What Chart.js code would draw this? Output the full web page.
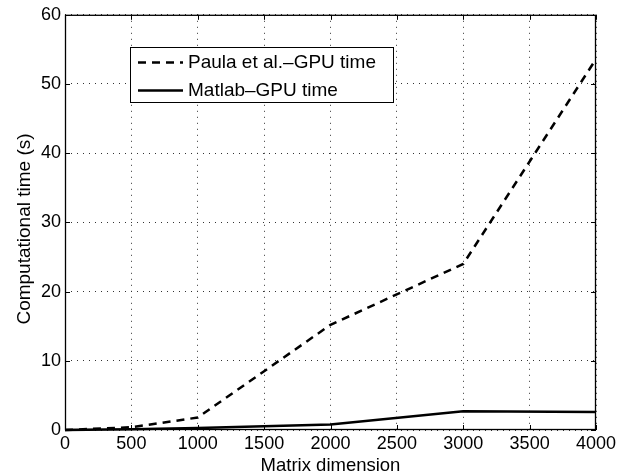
<!DOCTYPE html>
<html><head><meta charset="utf-8">
<script src="https://cdn.jsdelivr.net/npm/chart.js@4"></script>
<style>html,body{margin:0;padding:0;background:#fff}#wrap{width:631px;height:476px}</style>
</head><body><div id="wrap"><canvas id="c" width="631" height="476"></canvas></div>
<script>
const matrixDims = [0, 500, 1000, 2000, 3000, 4000];
const paulaGpuTime = [0, 0.4, 1.8, 15.2, 24.0, 53.6];
const matlabGpuTime = [0, 0.1, 0.3, 0.8, 2.7, 2.6];
const xTickValues = [0, 500, 1000, 1500, 2000, 2500, 3000, 3500, 4000];
const yTickValues = [0, 10, 20, 30, 40, 50, 60];
const seriesLabels = ['Paula et al.\u2013GPU time', 'Matlab\u2013GPU time'];
const xTitle = 'Matrix dimension';
const yTitle = 'Computational time (s)';

const FONT = '"Liberation Sans", Arial, Helvetica, sans-serif';
const toPts = (xs, ys) => xs.map((x, i) => ({x: x, y: ys[i]}));

const framePlugin = {
  id: 'frame',
  afterDatasetsDraw(chart) {
    const {ctx, chartArea: a, scales} = chart;
    ctx.save();
    ctx.strokeStyle = '#000';
    ctx.lineWidth = 1.3;
    ctx.setLineDash([]);
    ctx.strokeRect(a.left + 0.5, a.top + 0.5, a.right - a.left - 1, a.bottom - a.top - 1);
    const tl = 5;
    ctx.lineWidth = 1;
    ctx.beginPath();
    xTickValues.forEach(v => {
      const px = Math.round(scales.x.getPixelForValue(v)) + 0.5;
      ctx.moveTo(px, a.bottom); ctx.lineTo(px, a.bottom - tl);
      ctx.moveTo(px, a.top); ctx.lineTo(px, a.top + tl);
    });
    yTickValues.forEach(v => {
      const py = Math.round(scales.y.getPixelForValue(v)) + 0.5;
      ctx.moveTo(a.left, py); ctx.lineTo(a.left + tl, py);
      ctx.moveTo(a.right, py); ctx.lineTo(a.right - tl, py);
    });
    ctx.stroke();
    ctx.restore();
  },
  afterDraw(chart) {
    const {ctx} = chart;
    // y axis title
    ctx.save();
    ctx.fillStyle = '#000';
    ctx.font = '19px ' + FONT;
    ctx.textAlign = 'center';
    ctx.textBaseline = 'middle';
    ctx.translate(25, 229);
    ctx.rotate(-Math.PI / 2);
    ctx.fillText(yTitle, 0, 0);
    ctx.restore();
    // legend box
    ctx.save();
    const bx = 130, by = 47, bw = 263, bh = 55;
    ctx.fillStyle = '#fff';
    ctx.fillRect(bx, by, bw, bh);
    ctx.strokeStyle = '#000';
    ctx.lineWidth = 1;
    ctx.strokeRect(bx + 0.5, by + 0.5, bw, bh);
    const rows = [62.5, 90.5];
    chart.data.datasets.forEach((ds, i) => {
      ctx.save();
      ctx.strokeStyle = ds.borderColor;
      ctx.lineWidth = ds.borderWidth;
      ctx.setLineDash(ds.borderDash || []);
      ctx.beginPath();
      ctx.moveTo(138, rows[i]);
      ctx.lineTo(183, rows[i]);
      ctx.stroke();
      ctx.restore();
      ctx.fillStyle = '#000';
      ctx.font = '19px ' + FONT;
      ctx.textAlign = 'left';
      ctx.textBaseline = 'middle';
      ctx.fillText(ds.label, 188, rows[i]);
    });
    ctx.restore();
  }
};

new Chart(document.getElementById('c'), {
  type: 'line',
  data: {
    datasets: [
      {label: seriesLabels[0], data: toPts(matrixDims, paulaGpuTime), borderColor: '#000', borderWidth: 2.5,
       borderDash: [8, 6], pointRadius: 0, fill: false, tension: 0, clip: false},
      {label: seriesLabels[1], data: toPts(matrixDims, matlabGpuTime), borderColor: '#000', borderWidth: 2.5,
       pointRadius: 0, fill: false, tension: 0, clip: false}
    ]
  },
  options: {
    responsive: false,
    devicePixelRatio: 1,
    animation: false,
    layout: {padding: {left: 0, right: 35, top: 13.5, bottom: 0}},
    plugins: {legend: {display: false}, tooltip: {enabled: false}},
    scales: {
      x: {
        type: 'linear', min: 0, max: 4000,
        afterBuildTicks: s => { s.ticks = xTickValues.map(v => ({value: v})); },
        afterFit: s => { s.height = 46; },
        ticks: {color: '#000', font: {family: FONT, size: 18}, padding: 3, maxRotation: 0, callback: v => String(v)},
        grid: {color: '#333', lineWidth: 1, drawTicks: false},
        border: {display: false, dash: [1, 5]},
        title: {display: true, text: xTitle, color: '#000', font: {family: FONT, size: 18.5, lineHeight: 1.1}, padding: {top: 0, bottom: 0}}
      },
      y: {
        type: 'linear', min: 0, max: 60,
        afterBuildTicks: s => { s.ticks = yTickValues.map(v => ({value: v})); },
        afterFit: s => { s.width = 65; },
        ticks: {color: '#000', font: {family: FONT, size: 18}, padding: 4, callback: v => String(v)},
        grid: {color: '#333', lineWidth: 1, drawTicks: false},
        border: {display: false, dash: [1, 5]}
      }
    }
  },
  plugins: [framePlugin]
});
</script>
</body></html>
